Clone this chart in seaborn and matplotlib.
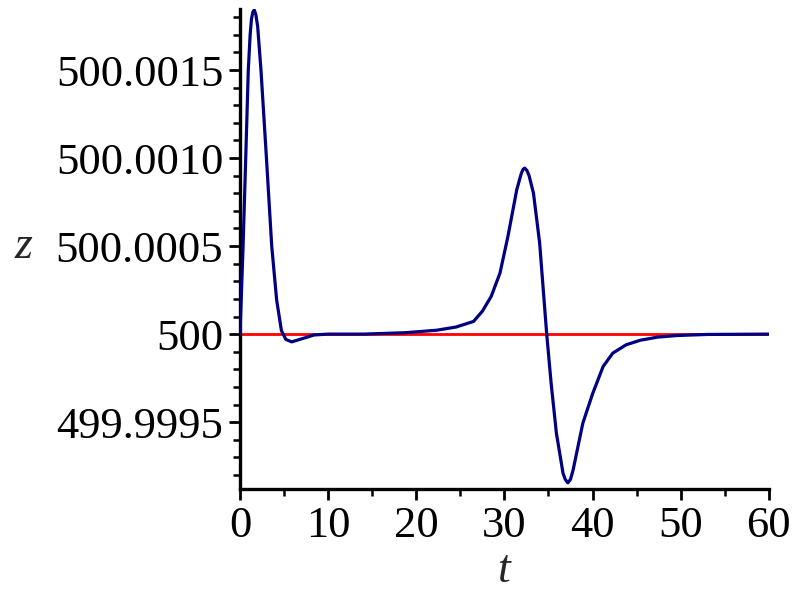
import numpy as np
import pandas as pd
import matplotlib
matplotlib.use("Agg")
import matplotlib.pyplot as plt
import seaborn as sns
from matplotlib.ticker import MultipleLocator, FixedLocator, FixedFormatter

# --- data ---
t_vals = [0, 0.35, 0.65, 0.94, 1.15, 1.3, 1.45, 1.62, 1.8, 2.0, 2.38, 3.0, 3.6, 4.16,
          4.7, 5.2, 5.86, 6.8, 8.4, 10, 14, 18.8, 22.3, 24.5, 26.5, 27.5, 28.5,
          29.5, 30.4, 31.4, 31.9, 32.1, 32.3, 32.55, 32.8, 33.3, 34.0, 34.8, 35.3,
          35.9, 36.65, 36.9, 37.2, 37.5, 37.8, 38.9, 40.0, 41.2, 42.3, 43.8, 45.4,
          47.4, 49.6, 53, 60]
z_vals = [500.0, 500.000500, 500.001000, 500.001500, 500.001700, 500.001790,
          500.001828, 500.001842, 500.001815, 500.001750, 500.001500, 500.001000,
          500.000500, 500.000193, 500.000020, 499.999970, 499.999956, 499.999970,
          499.999995, 500.0, 500.0, 500.000008, 500.000022, 500.000040, 500.000072,
          500.000130, 500.000214, 500.000347, 500.000555, 500.000820, 500.000910,
          500.000935, 500.000943, 500.000930, 500.000900, 500.000800, 500.000517,
          500.0, 499.999722, 499.999437, 499.999210, 499.999175, 499.999155,
          499.999175, 499.999229, 499.999494, 499.999660, 499.999816, 499.999892,
          499.999939, 499.999965, 499.999983, 499.999992, 499.999998, 500.0]
ref_t = [0, 60]
ref_z = [500.0, 500.0]

ytick_vals = [499.9995, 500.0, 500.0005, 500.0010, 500.0015]
ytick_labels = ["499.9995", "500", "500.0005", "500.0010", "500.0015"]
xtick_vals = [0, 10, 20, 30, 40, 50, 60]
xtick_labels = ["0", "10", "20", "30", "40", "50", "60"]

sns.set_theme(style="ticks")
plt.rcParams['font.family'] = ['Liberation Serif', 'DejaVu Serif']

fig = plt.figure(figsize=(8, 6), dpi=100)
ax = fig.add_axes([0.300, 0.185, 0.661, 0.800])

df_curve = pd.DataFrame({"t": t_vals, "z": z_vals})
df_ref = pd.DataFrame({"t": ref_t, "z": ref_z})
sns.lineplot(data=df_ref, x="t", y="z", ax=ax, color="#ff0000", linewidth=2.0,
             estimator=None, sort=False, zorder=2)
sns.lineplot(data=df_curve, x="t", y="z", ax=ax, color="#000080", linewidth=2.3,
             estimator=None, sort=False, zorder=3)

ax.set_xlim(0, 60)
ax.set_ylim(499.99912, 500.001847)

ax.xaxis.set_major_locator(FixedLocator(xtick_vals))
ax.xaxis.set_major_formatter(FixedFormatter(xtick_labels))
ax.xaxis.set_minor_locator(MultipleLocator(5))
ax.yaxis.set_major_locator(FixedLocator(ytick_vals))
ax.yaxis.set_major_formatter(FixedFormatter(ytick_labels))
ax.yaxis.set_minor_locator(MultipleLocator(0.0001))

for s in ["top", "right"]:
    ax.spines[s].set_visible(False)
for s in ["left", "bottom"]:
    ax.spines[s].set_linewidth(2.4)
    ax.spines[s].set_color("black")

ax.tick_params(axis="both", which="major", direction="out", length=8, width=2.0,
               labelsize=32, colors="black", pad=4)
ax.tick_params(axis="both", which="minor", direction="out", length=5, width=1.8,
               colors="black")

ax.set_xlabel("t", fontsize=33, fontstyle="italic")
ax.set_ylabel("z", fontsize=33, fontstyle="italic", rotation=0)
ax.xaxis.set_label_coords(0.5, -0.125)
ax.yaxis.set_label_coords(-0.41, 0.46)
ax.grid(False)

fig.savefig("out.png", dpi=100)
